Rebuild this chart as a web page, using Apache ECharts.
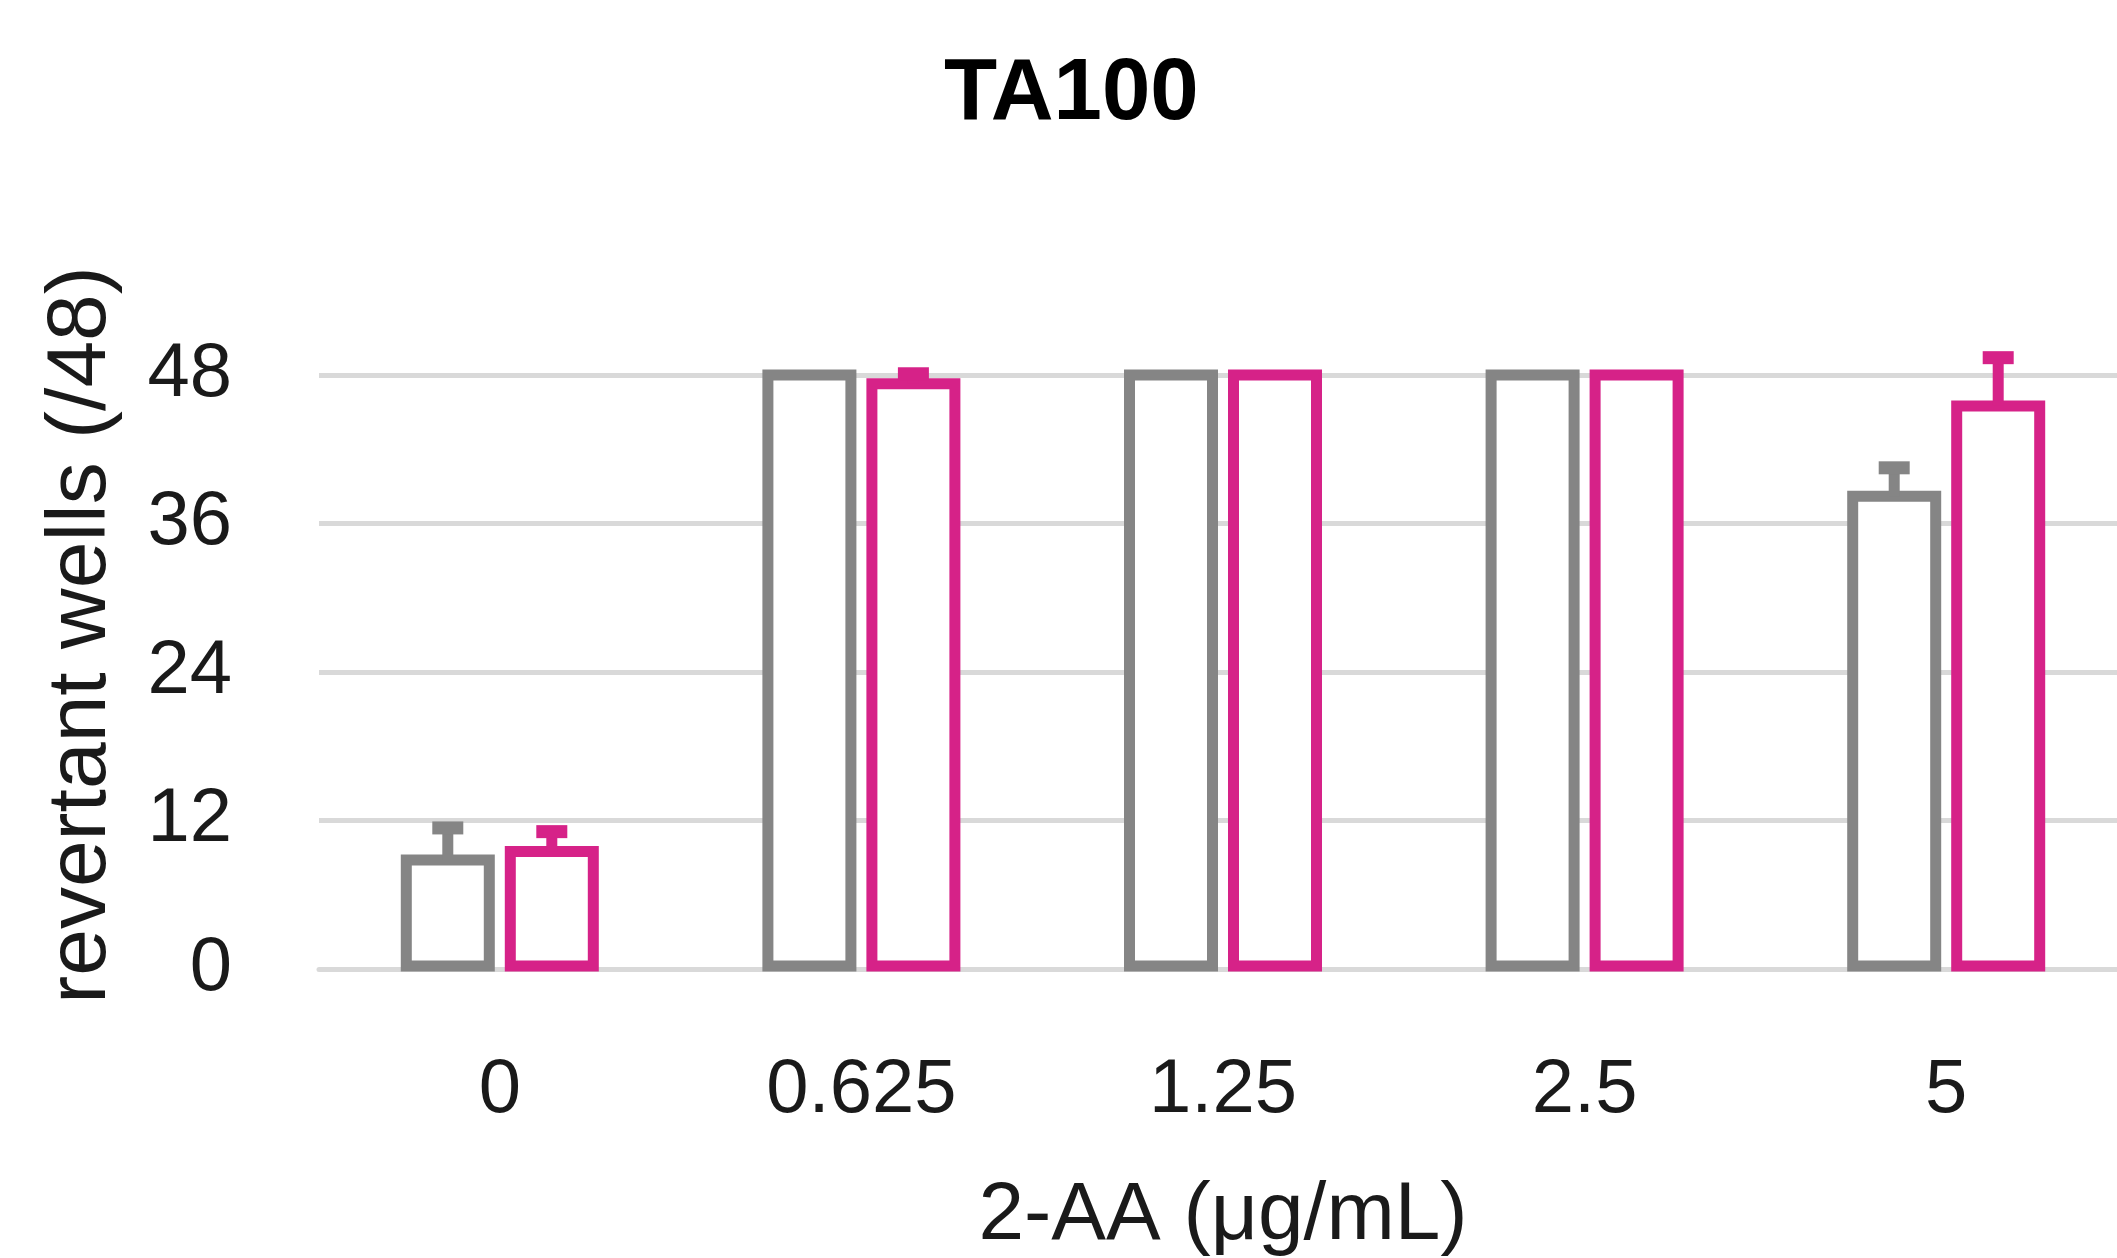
<!DOCTYPE html>
<html>
<head>
<meta charset="utf-8">
<script src="https://cdn.jsdelivr.net/npm/echarts@6/dist/echarts.min.js"></script>
<style>
html,body{margin:0;padding:0;background:#fff;overflow:hidden;}
#chart{width:2140px;height:1258px;}
</style>
</head>
<body>
<div id="chart"></div>
<script>
// ---- data ----
const titleText = 'TA100';
const xAxisName = '2-AA (μg/mL)';
const yAxisName = 'revertant wells (/48)';
const categories = ['0', '0.625', '1.25', '2.5', '5'];
const seriesNames = ['Series 1', 'Series 2'];
const valuesGray = [8.8, 48, 48, 48, 38.2];
const errGray = [2.6, 0, 0, 0, 2.3];
const valuesPink = [9.5, 47.3, 48, 48, 45.5];
const errPink = [1.6, 0.8, 0, 0, 3.9];
const yTicks = [0, 12, 24, 36, 48];

// ---- style ----
const GRAY = '#858585';
const PINK = '#D62288';
const FONT = 'Liberation Sans';
const BAR_W = 83;      // stroke-centre width
const BORDER = 11;
const OFFSET = 52;     // half the distance between paired bar centres

// Bars drawn Excel-style: outline centred on the bar edge
function barSeries(name, vals, color, sign) {
  return {
    type: 'custom',
    name: name,
    clip: false,
    z: 2,
    data: categories.map((c, i) => [i, vals[i]]),
    encode: { x: 0, y: 1 },
    renderItem: function (params, api) {
      const base = api.coord([api.value(0), 0]);
      const top = api.coord([api.value(0), api.value(1)]);
      const x = base[0] + sign * OFFSET;
      return {
        type: 'rect',
        shape: { x: x - BAR_W / 2, y: top[1], width: BAR_W, height: base[1] - top[1] - 3 },
        style: { fill: '#ffffff', stroke: color, lineWidth: BORDER }
      };
    }
  };
}

function errSeries(name, vals, errs, color, sign) {
  return {
    type: 'custom',
    name: name + ' error',
    clip: false,
    z: 5,
    data: categories.map((c, i) => [i, vals[i], errs[i]]),
    encode: { x: 0, y: 1 },
    renderItem: function (params, api) {
      const err = api.value(2);
      if (!err) return null;
      const base = api.coord([api.value(0), api.value(1)]);
      const top = api.coord([api.value(0), api.value(1) + err]);
      const x = base[0] + sign * OFFSET;
      const capW = 31, capH = 13;
      return {
        type: 'group',
        children: [
          { type: 'rect', shape: { x: x - 5.5, y: top[1], width: 11, height: base[1] - top[1] }, style: { fill: color } },
          { type: 'rect', shape: { x: x - capW / 2, y: top[1] - capH / 2, width: capW, height: capH }, style: { fill: color } }
        ]
      };
    }
  };
}

const chart = echarts.init(document.getElementById('chart'));
chart.setOption({
  backgroundColor: '#ffffff',
  animation: false,
  title: {
    text: titleText,
    left: 939,
    top: 47,
    textStyle: { fontFamily: FONT, fontWeight: 'bold', fontSize: 87, color: '#000' }
  },
  grid: { left: 319, width: 1808, top: 375, height: 594, containLabel: false },
  xAxis: {
    type: 'category',
    data: categories,
    name: xAxisName,
    nameLocation: 'middle',
    nameGap: 206,
    nameTextStyle: { fontFamily: FONT, fontSize: 82, color: '#1a1a1a' },
    axisLine: { show: true, lineStyle: { color: '#D9D9D9', width: 5 } },
    axisTick: { show: false },
    axisLabel: { fontFamily: FONT, fontSize: 76, color: '#1a1a1a', margin: 84 }
  },
  yAxis: {
    type: 'value',
    min: yTicks[0],
    max: yTicks[yTicks.length - 1],
    interval: 12,
    axisLine: { show: false },
    axisTick: { show: false },
    splitLine: { show: true, lineStyle: { color: '#D9D9D9', width: 5 } },
    axisLabel: { fontFamily: FONT, fontSize: 76, color: '#1a1a1a', margin: 87 }
  },
  graphic: [{
    type: 'text',
    x: 82, y: 635,
    rotation: Math.PI / 2,
    style: {
      text: yAxisName,
      font: '84px "Liberation Sans"',
      fill: '#1a1a1a',
      textAlign: 'center',
      textVerticalAlign: 'middle'
    }
  }],
  series: [
    barSeries(seriesNames[0], valuesGray, GRAY, -1),
    barSeries(seriesNames[1], valuesPink, PINK, 1),
    errSeries(seriesNames[0], valuesGray, errGray, GRAY, -1),
    errSeries(seriesNames[1], valuesPink, errPink, PINK, 1)
  ]
});
</script>
</body>
</html>
